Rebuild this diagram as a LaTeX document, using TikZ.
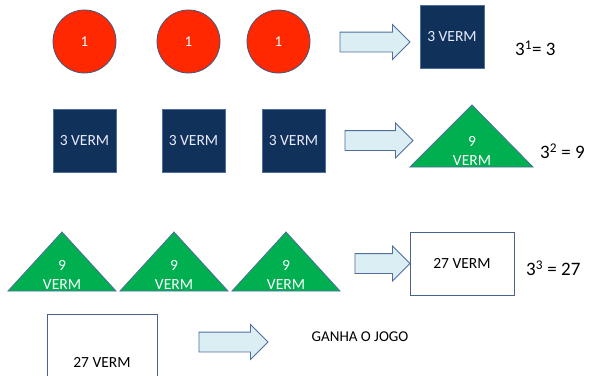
\documentclass[tikz,border=0pt]{standalone}
\usepackage{fontspec}
\setmainfont{Carlito}
\usetikzlibrary{shapes.arrows}

\definecolor{bola}{RGB}{255,40,0}
\definecolor{azul}{RGB}{16,49,90}
\definecolor{borda}{RGB}{79,110,158}
\definecolor{verde}{RGB}{0,176,80}
\definecolor{setafill}{RGB}{219,238,244}

\tikzset{
	bola/.style={circle, draw=borda!80!black, fill=bola, line width=0.8pt, minimum size=63pt, inner sep=0pt, text=white, font=\fontsize{15}{18}\selectfont},
	caixa/.style={draw=borda, fill=azul, line width=0.8pt, minimum size=63pt, inner sep=0pt, text=white!92!blue, font=\fontsize{15.5}{18}\selectfont},
	branca/.style={draw=borda!90!black, fill=white, line width=0.8pt, minimum width=104pt, minimum height=63pt, inner sep=0pt, font=\fontsize{15.5}{18}\selectfont},
	tri/.style={draw=borda, fill=verde, line width=0.8pt},
	tritexto/.style={align=center, text=white, inner sep=0pt, font=\fontsize{15.5}{18.5}\selectfont},
	seta/.style={single arrow, draw=borda, fill=setafill, line width=0.8pt, inner xsep=0pt, inner ysep=9.5pt, single arrow head extend=7.5pt},
	conta/.style={inner sep=0pt, font=\fontsize{19}{22}\selectfont}
}

\begin{document}
\begin{tikzpicture}[x=1pt,y=-1pt]

		\useasboundingbox (0,0) rectangle (591,375);
		\clip (0,0) rectangle (591,375);

		% linha 1
		\node [bola] (c1) at (84.5,41.5) {1};
		\node [bola] (c2) at (188.5,41.5) {1};
		\node [bola] (c3) at (278.5,41.5) {1};
		\node [seta, minimum height=70pt] (s1) at (370,42) {};
		\node [caixa, minimum width=64pt] (q0) at (452,36.5) {3 VERM};
		\node [conta, anchor=west] (r1) at (515,48) {3\textsuperscript{1}= 3};

		% linha 2
		\node [caixa] (q1) at (84.5,141) {3 VERM};
		\node [caixa] (q2) at (193.5,141) {3 VERM};
		\node [caixa] (q3) at (293.5,141) {3 VERM};
		\node [seta, minimum height=68pt] (s2) at (374,140.5) {};
		\filldraw [tri] (410,167) -- (472,105) -- (533,167) -- cycle;
		\node [tritexto] (t0) at (472,151) {9\\VERM};
		\node [conta, anchor=west] (r2) at (540,151) {3\textsuperscript{2} = 9};

		% linha 3
		\foreach \x [count=\i] in {62,174,286} {
			\filldraw [tri] (\x-54,291) -- (\x,232) -- (\x+54,291) -- cycle;
			\node [tritexto] (t\i) at (\x,275) {9\\VERM};
		}
		\node [seta, minimum height=55pt] (s3) at (377.5,263.5) {};
		\node [branca] (b0) at (462,263.5) {27 VERM};
		\node [conta, anchor=west] (r3) at (526,268) {3\textsuperscript{3} = 27};

		% linha 4
		\node [branca, minimum width=110pt, minimum height=96pt, text depth=0pt] (b1) at (102,362) {27 VERM};
		\node [seta, minimum height=69pt] (s4) at (228.5,342) {};
		\node [inner sep=0pt, font=\fontsize{15}{18}\selectfont] (fim) at (360,337) {GANHA O JOGO};

\end{tikzpicture}
\end{document}
